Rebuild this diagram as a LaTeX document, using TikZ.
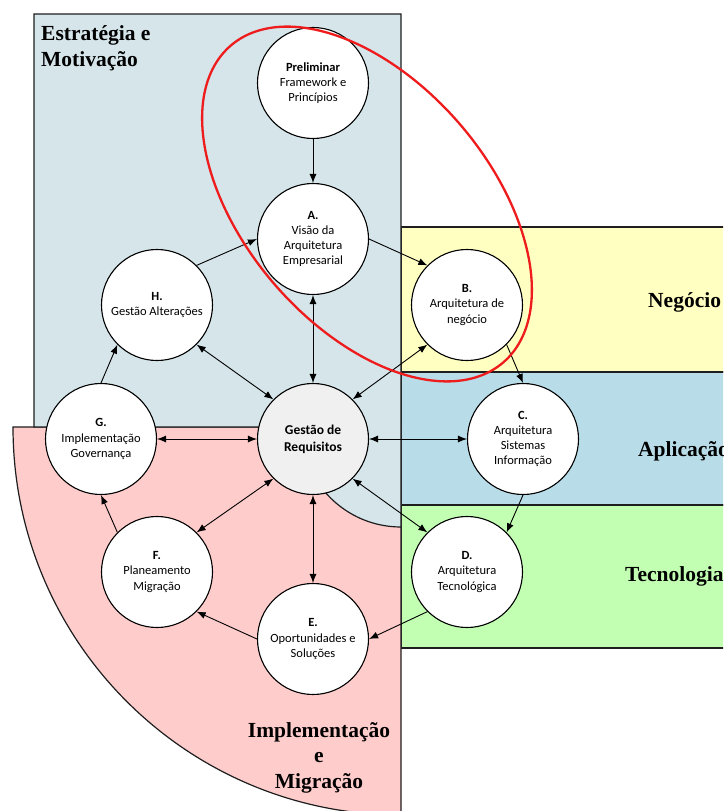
\documentclass[tikz,border=0pt]{standalone}
\usepackage{fontspec}
\setmainfont{Liberation Serif}
\newfontfamily\nodefont{Carlito}
\usetikzlibrary{arrows.meta}
\definecolor{stratzone}{HTML}{D5E5EA}
\definecolor{implzone}{HTML}{FFCCCC}
\definecolor{bizzone}{HTML}{FFFFC2}
\definecolor{appzone}{HTML}{B8DDE8}
\definecolor{techzone}{HTML}{C2FFB3}
\definecolor{reqfill}{HTML}{F0F0F0}
\definecolor{scopered}{HTML}{EE1C1C}
\definecolor{edgegray}{HTML}{1E1E1E}
\begin{document}
\begin{tikzpicture}[x=1pt,y=-1pt,
  zoneline/.style={draw=edgegray, line width=1.2pt},
  phase/.style={circle, draw=black, line width=1.1pt, fill=white,
    minimum size=111pt, inner sep=0pt, align=center,
    font=\nodefont\fontsize{12.5}{15.2}\selectfont},
  reqnode/.style={phase, fill=reqfill,
    font=\nodefont\bfseries\fontsize{13.5}{17}\selectfont},
  link/.style={line width=0.9pt, -{Latex[length=9pt,width=7pt]}},
  both/.style={line width=0.9pt, {Latex[length=9pt,width=7pt]}-{Latex[length=9pt,width=7pt]}},
  zonetitle/.style={inner sep=0pt, font=\bfseries\fontsize{21.5}{26}\selectfont}
]
\useasboundingbox (0,0) rectangle (723,811);
\fill[white] (0,0) rectangle (723,811);
\clip (0,0) rectangle (723,811);

% architecture layers on the right
\draw[zoneline, fill=bizzone]  (401,227) rectangle (760,372);
\draw[zoneline, fill=appzone]  (401,372) rectangle (760,505);
\draw[zoneline, fill=techzone] (401,505) rectangle (760,648);

% implementation and migration sector
\draw[zoneline, fill=implzone] (401,427) -- (13,427)
  arc[start angle=180, end angle=90, radius=388] -- cycle;

% strategy and motivation area
\draw[zoneline, fill=stratzone] (34,14) -- (401,14) -- (401,527)
  arc[start angle=90, end angle=180, radius=100] -- (34,427) -- cycle;

% zone titles
\node[zonetitle, anchor=base west] (t1) at (41,40.5) {Estratégia e};
\node[zonetitle, anchor=base west] (t2) at (41,66.5) {Motivação};
\node[zonetitle, anchor=base west] (t3) at (648,307) {Negócio};
\node[zonetitle, anchor=base west] (t4) at (638,456.5) {Aplicação};
\node[zonetitle, anchor=base west] (t5) at (625,581.5) {Tecnologia};
\node[zonetitle, anchor=base] (t6) at (319,737) {Implementação};
\node[zonetitle, anchor=base] (t7) at (319,762) {e};
\node[zonetitle, anchor=base] (t8) at (319,788) {Migração};

% ADM phases
\node[phase] (pre) at (313,83)  {\textbf{Preliminar}\\Framework e\\Princípios};
\node[phase] (a)   at (313,239) {\textbf{A.}\\Visão da\\Arquitetura\\Empresarial};
\node[phase] (b)   at (467,305) {\textbf{B.}\\Arquitetura de\\negócio};
\node[phase] (c)   at (523,439) {\textbf{C.}\\Arquitetura\\Sistemas\\Informação};
\node[phase] (d)   at (467,572) {\textbf{D.}\\Arquitetura\\Tecnológica};
\node[phase] (e)   at (313,639) {\textbf{E.}\\Oportunidades e\\Soluções};
\node[phase] (f)   at (157,572) {\textbf{F.}\\Planeamento\\Migração};
\node[phase] (g)   at (101,439) {\textbf{G.}\\Implementação\\Governança};
\node[phase] (h)   at (157,305) {\textbf{H.}\\Gestão Alterações};
\node[reqnode] (req) at (313,439) {Gestão de\\Requisitos};

% cycle
\draw[link] (pre.south) -- (a.north);
\draw[link] (a.east) -- (b.north west);
\draw[link] (b.south east) -- (c.north);
\draw[link] (c.south) -- (d.north east);
\draw[link] (d.south west) -- (e.east);
\draw[link] (e.west) -- (f.south east);
\draw[link] (f.north west) -- (g.south);
\draw[link] (g.north) -- (h.south west);
\draw[link] (h.north east) -- (a.west);

% requirements management hub
\draw[both] (req.north) -- (a.south);
\draw[both] (req.north west) -- (h.south east);
\draw[both] (req.north east) -- (b.south west);
\draw[both] (req.west) -- (g.east);
\draw[both] (req.east) -- (c.west);
\draw[both] (req.south east) -- (d.north west);
\draw[both] (req.south) -- (e.north);
\draw[both] (req.south west) -- (f.north east);

% scope ellipse around Preliminar, A and B
\draw[scopered, line width=2.3pt] plot[domain=0:360, samples=200, variable=\t]
  ({367 + 209*cos(\t)*0.652 - 122.5*sin(\t)*0.758},
   {204 + 209*cos(\t)*0.758 + 122.5*sin(\t)*0.652}) -- cycle;
\end{tikzpicture}
\end{document}
